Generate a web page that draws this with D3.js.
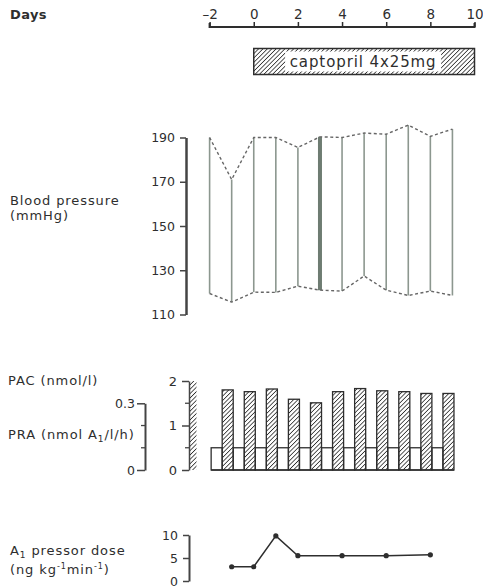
<!DOCTYPE html>
<html>
<head>
<meta charset="utf-8">
<script src="https://cdn.jsdelivr.net/npm/d3@7"></script>
<style>
  html, body { margin: 0; padding: 0; background: #fff; }
  svg { display: block; font-family: "DejaVu Sans", sans-serif; }
  text { fill: #2e2e2e; }
  .lbl { font-size: 13px; letter-spacing: 0.9px; }
</style>
</head>
<body>
<svg id="chart" width="483" height="588"></svg>
<script>
// Study days on the shared time axis
const dayTicks = [-2, 0, 2, 4, 6, 8, 10];
const bpDays = [-2, -1, 0, 1, 2, 3, 4, 5, 6, 7, 8, 9];
// Blood pressure (mmHg)
const systolic  = [190, 171, 190, 190, 185.5, 190.3, 190, 192, 191.5, 195.6, 190.5, 193.8];
const diastolic = [119.5, 115.6, 120.1, 120, 122.8, 121, 120.6, 127.4, 121, 118.6, 120.6, 118.6];
const bpTicks = [110, 130, 150, 170, 190];
// Hormones
const hormoneDays = [-1, 0, 1, 2, 3, 4, 5, 6, 7, 8, 9];
const pac = [1.80, 1.76, 1.82, 1.59, 1.51, 1.76, 1.83, 1.78, 1.76, 1.72, 1.72]; // nmol/l
const pra = [0.1, 0.1, 0.1, 0.1, 0.1, 0.1, 0.1, 0.1, 0.1, 0.1, 0.1];           // nmol A1/l/h
const pacTicks = [0, 1, 2];
const praTicks = [0, 0.3];
// Angiotensin I pressor dose
const a1Days = [-1, 0, 1, 2, 4, 6, 8];
const a1Dose = [3.1, 3.1, 9.8, 5.5, 5.5, 5.5, 5.7];
const a1Ticks = [0, 5, 10];
// Treatment period
const treatment = { from: 0, to: 10, label: "captopril 4x25mg" };

const svg = d3.select("#chart");
const ink = "#2e2e2e";

// hatch fill
const defs = svg.append("defs");
defs.append("pattern")
  .attr("id", "hatch")
  .attr("patternUnits", "userSpaceOnUse")
  .attr("width", 3.1).attr("height", 3.1)
  .attr("patternTransform", "rotate(45)")
  .append("line")
  .attr("x1", 0).attr("y1", 0).attr("x2", 0).attr("y2", 3.1)
  .attr("stroke", ink).attr("stroke-width", 1.6);

const x = d3.scaleLinear().domain([-2, 10]).range([209.6, 474.5]);

function styleTicks(g, size) {
  g.selectAll(".tick text").attr("font-size", size).attr("fill", ink)
    .attr("font-family", "DejaVu Sans, sans-serif");
}

// ---- day axis ----
svg.append("text").attr("x", 10).attr("y", 19)
  .attr("font-size", 13).attr("font-weight", "bold").attr("letter-spacing", 0.4).text("Days");

const dayAxis = svg.append("g").attr("transform", "translate(0,27)")
  .call(d3.axisTop(x).tickValues(dayTicks).tickSize(5).tickPadding(3)
    .tickFormat(d => d < 0 ? "\u2013" + Math.abs(d) : d));
dayAxis.select(".domain").attr("d", `M${x(-2)},-4V0H${x(10)}V-4`).attr("stroke", ink).attr("stroke-width", 2);
dayAxis.selectAll(".tick line").attr("stroke", ink).attr("stroke-width", 1.5);
styleTicks(dayAxis, 13.5);

// ---- treatment bar ----
const tb = svg.append("g");
const tbY = 48.5, tbH = 26;
tb.append("rect").attr("x", x(treatment.from)).attr("y", tbY)
  .attr("width", x(treatment.to) - x(treatment.from)).attr("height", tbH)
  .attr("fill", "url(#hatch)").attr("stroke", ink).attr("stroke-width", 1.5);
const tbMid = (x(treatment.from) + x(treatment.to)) / 2;
tb.append("rect").attr("x", tbMid - 79).attr("y", tbY + 3)
  .attr("width", 156).attr("height", tbH - 6).attr("fill", "#fff");
tb.append("text").attr("x", tbMid - 1).attr("y", tbY + 18.5)
  .attr("text-anchor", "middle").attr("font-size", 15).attr("letter-spacing", 0.9).text(treatment.label);

// ---- blood pressure ----
const yBP = d3.scaleLinear().domain([110, 190]).range([314.5, 137.5]);
svg.append("text").attr("class", "lbl").attr("x", 10).attr("y", 205).text("Blood pressure");
svg.append("text").attr("class", "lbl").attr("x", 10).attr("y", 220).text("(mmHg)");

const bpAxis = svg.append("g").attr("transform", "translate(186,0)")
  .call(d3.axisLeft(yBP).tickValues(bpTicks).tickSize(6).tickPadding(5).tickSizeOuter(0));
bpAxis.select(".domain").attr("stroke", "#444").attr("stroke-width", 2.5);
bpAxis.selectAll(".tick line").attr("stroke", "#444").attr("stroke-width", 1.5);
styleTicks(bpAxis, 12.5);

const bp = bpDays.map((d, i) => ({ d, s: systolic[i], di: diastolic[i] }));
const boldDay = 3;
svg.append("g").selectAll("line").data(bp).join("line")
  .attr("x1", p => x(p.d)).attr("x2", p => x(p.d))
  .attr("y1", p => yBP(p.s)).attr("y2", p => yBP(p.di))
  .attr("stroke", p => p.d === boldDay ? "#6e7c72" : "#8c978f")
  .attr("stroke-width", p => p.d === boldDay ? 4 : 1.6);

const dash = (acc) => d3.line().x(p => x(p.d)).y(p => yBP(acc(p)));
svg.append("path").attr("d", dash(p => p.s)(bp))
  .attr("fill", "none").attr("stroke", "#666").attr("stroke-width", 1.4).attr("stroke-dasharray", "3,2.5");
svg.append("path").attr("d", dash(p => p.di)(bp))
  .attr("fill", "none").attr("stroke", "#666").attr("stroke-width", 1.4).attr("stroke-dasharray", "3,2.5");

// ---- PAC / PRA ----
const yPAC = d3.scaleLinear().domain([0, 2]).range([470, 381]);
const yPRA = d3.scaleLinear().domain([0, 0.3]).range([470, 403.3]);

svg.append("text").attr("class", "lbl").attr("x", 8).attr("y", 385).text("PAC (nmol/l)");
const praLabel = svg.append("text").attr("class", "lbl").attr("x", 8).attr("y", 439);
praLabel.append("tspan").text("PRA (nmol A");
praLabel.append("tspan").attr("font-size", 9).attr("dy", 3).text("1");
praLabel.append("tspan").attr("dy", -3).text("/l/h)");

const praAxis = svg.append("g").attr("transform", "translate(145,0)")
  .call(d3.axisLeft(yPRA).tickValues(praTicks).tickSize(8).tickPadding(2).tickSizeOuter(0)
    .tickFormat(d => d === 0 ? "0" : d3.format(".1f")(d)));
praAxis.select(".domain").attr("stroke", "#444").attr("stroke-width", 2);
praAxis.selectAll(".tick line").attr("stroke", "#444").attr("stroke-width", 1.5);
styleTicks(praAxis, 12.5);
svg.append("g").selectAll("line").data([0.1, 0.2]).join("line")
  .attr("x1", 141).attr("x2", 145).attr("y1", d => yPRA(d)).attr("y2", d => yPRA(d))
  .attr("stroke", "#444").attr("stroke-width", 1.3);

const pacAxis = svg.append("g").attr("transform", "translate(189,0)")
  .call(d3.axisLeft(yPAC).tickValues(pacTicks).tickSize(7).tickPadding(5).tickSizeOuter(0)
    .tickFormat(d3.format("d")));
pacAxis.select(".domain").attr("stroke", "#444").attr("stroke-width", 1.5);
pacAxis.selectAll(".tick line").attr("stroke", "#444").attr("stroke-width", 1.5);
styleTicks(pacAxis, 13);
svg.append("g").selectAll("line").data([0.5, 1.5]).join("line")
  .attr("x1", 185).attr("x2", 189).attr("y1", d => yPAC(d)).attr("y2", d => yPAC(d))
  .attr("stroke", "#444").attr("stroke-width", 1.3);
svg.append("rect").attr("x", 190).attr("y", yPAC(2)).attr("width", 6.5)
  .attr("height", yPAC(0) - yPAC(2)).attr("fill", "url(#hatch)");

const hormones = hormoneDays.map((d, i) => ({ d, pac: pac[i], pra: pra[i] }));
const barG = svg.append("g");
barG.selectAll("rect.pra").data(hormones).join("rect").attr("class", "pra")
  .attr("x", h => x(h.d - 0.93)).attr("width", h => x(h.d - 0.43) - x(h.d - 0.93))
  .attr("y", h => yPRA(h.pra)).attr("height", h => yPRA(0) - yPRA(h.pra))
  .attr("fill", "#fff").attr("stroke", ink).attr("stroke-width", 1.3);
barG.selectAll("rect.pac").data(hormones).join("rect").attr("class", "pac")
  .attr("x", h => x(h.d - 0.43)).attr("width", h => x(h.d + 0.07) - x(h.d - 0.43))
  .attr("y", h => yPAC(h.pac)).attr("height", h => yPAC(0) - yPAC(h.pac))
  .attr("fill", "url(#hatch)").attr("stroke", ink).attr("stroke-width", 1.3);
barG.append("line").attr("x1", x(hormoneDays[0] - 0.93)).attr("x2", x(hormoneDays[hormoneDays.length - 1] + 0.07))
  .attr("y1", yPAC(0)).attr("y2", yPAC(0)).attr("stroke", ink).attr("stroke-width", 1.5);

// ---- A1 pressor dose ----
const yA1 = d3.scaleLinear().domain([0, 10]).range([581, 535]);
const a1Label = svg.append("text").attr("class", "lbl").attr("x", 10).attr("y", 555);
a1Label.append("tspan").text("A");
a1Label.append("tspan").attr("font-size", 9).attr("dy", 3).text("1");
a1Label.append("tspan").attr("dy", -3).text("  pressor dose");
const a1Unit = svg.append("text").attr("class", "lbl").attr("x", 10).attr("y", 574);
a1Unit.append("tspan").text("(ng kg");
a1Unit.append("tspan").attr("font-size", 8).attr("dy", -5).text("-1");
a1Unit.append("tspan").attr("dy", 5).text("min");
a1Unit.append("tspan").attr("font-size", 8).attr("dy", -5).text("-1");
a1Unit.append("tspan").attr("dy", 5).text(")");

const a1Axis = svg.append("g").attr("transform", "translate(189,0)")
  .call(d3.axisLeft(yA1).tickValues(a1Ticks).tickSize(6).tickPadding(5).tickSizeOuter(0));
a1Axis.select(".domain").attr("stroke", "#444").attr("stroke-width", 2);
a1Axis.selectAll(".tick line").attr("stroke", "#444").attr("stroke-width", 1.5);
styleTicks(a1Axis, 12.5);

const a1 = a1Days.map((d, i) => ({ d, v: a1Dose[i] }));
svg.append("path").attr("d", d3.line().x(p => x(p.d)).y(p => yA1(p.v))(a1))
  .attr("fill", "none").attr("stroke", ink).attr("stroke-width", 1.5);
svg.append("g").selectAll("circle").data(a1).join("circle")
  .attr("cx", p => x(p.d)).attr("cy", p => yA1(p.v)).attr("r", 2.6).attr("fill", ink);
</script>
</body>
</html>
